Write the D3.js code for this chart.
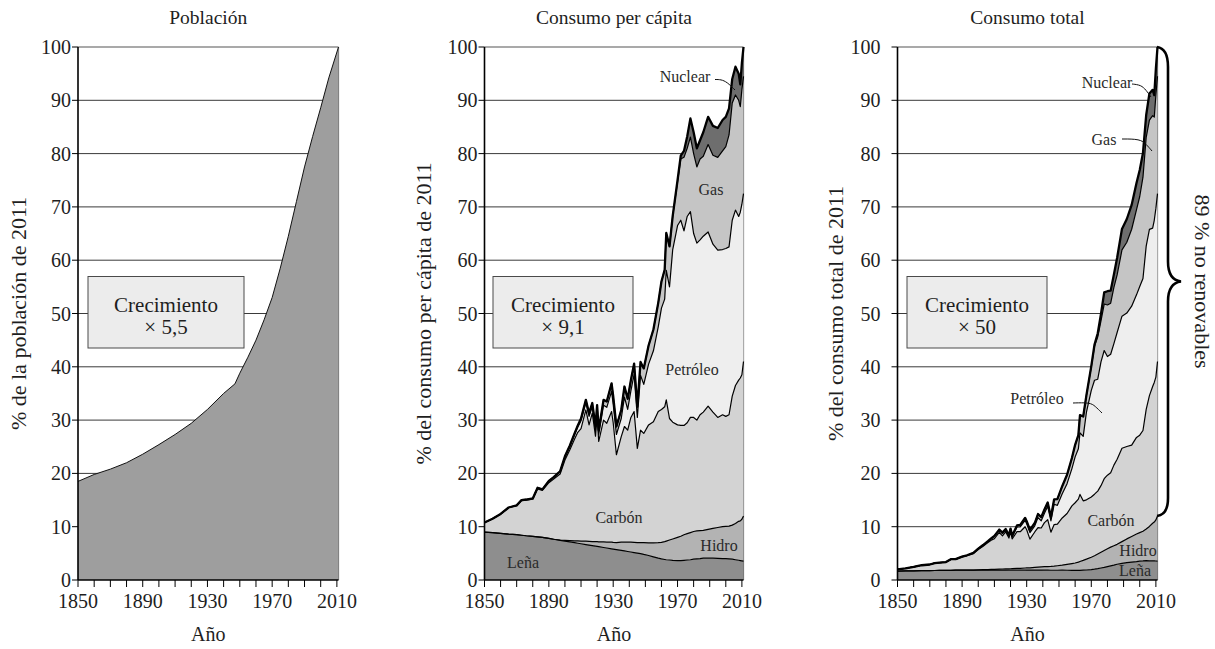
<!DOCTYPE html>
<html><head><meta charset="utf-8">
<script src="https://cdn.jsdelivr.net/npm/d3@7/dist/d3.min.js"></script>
<style>
body{margin:0;background:#fff}
</style>
</head><body>
<svg id="c" width="1215" height="649"></svg>
<script>
// ---------------- DATA ----------------
const popYears  = [1850,1860,1870,1880,1890,1900,1910,1920,1930,1940,1947,1950,1955,1960,1965,1970,1975,1980,1985,1990,1995,2000,2005,2011];
const popValues = [18.5,19.8,20.8,22.0,23.6,25.4,27.3,29.4,32.0,35.0,36.8,38.8,41.8,45.0,48.8,53.0,58.5,64.5,71.0,77.5,83.2,88.6,94.2,100];

const sources = ["Leña","Hidro","Carbón","Petróleo","Gas","Nuclear"];
const years = [1850,1855,1860,1865,1870,1873,1876,1880,1883,1886,1890,1893,1897,1900,1903,1906,1908,1910,1913,1915,1917,1919,1920,1921,1924,1926,1929,1930,1932,1935,1937,1939,1941,1943,1945,1947,1949,1952,1955,1958,1960,1962,1963,1965,1967,1970,1972,1974,1976,1978,1980,1982,1984,1986,1989,1992,1995,1998,2000,2002,2004,2006,2008,2009,2010,2011];

// Consumo per cápita (% del consumo per cápita de 2011), por fuente
const pcLena = [9.0,8.9,8.75,8.6,8.5, 8.4,8.3,8.2,8.1,8.0, 7.8,7.65,7.45,7.3,7.15, 7.0,6.9,6.8,6.65,6.55, 6.45,6.35,6.3,6.25,6.1, 6.0,5.85,5.8,5.7,5.55, 5.45,5.35,5.25,5.15,5.05, 4.95,4.8,4.6,4.35,4.1, 3.95,3.85,3.8,3.75,3.7, 3.65,3.65,3.7,3.75,3.8, 3.9,3.95,4.0,4.1,4.1, 4.1,4.05,4.0,4.0,3.95, 3.9,3.8,3.7,3.65,3.6, 3.55];
const pcHidro = [0,0,0,0,0, 0,0,0,0,0, 0,0,0.05,0.15,0.25, 0.35,0.45,0.5,0.65,0.7, 0.75,0.85,0.9,0.9,1.05, 1.1,1.25,1.25,1.3,1.55, 1.65,1.75,1.85,1.9,1.95, 2.05,2.2,2.35,2.6,2.9, 3.1,3.35,3.5,3.75,4.0, 4.35,4.55,4.8,4.95,5.1, 5.2,5.25,5.25,5.2,5.4, 5.6,5.8,6.0,6.05,6.15, 6.4,6.8,7.3,7.45,7.8, 8.45];
const pcCarbon = [1.8,2.6,3.65,5.0,5.45, 6.5,6.7,6.95,9.0,8.8, 10.45,11.3,12.4,15.05,17.0, 19.1,20.35,21.1,24.6,21.85, 24.1,19.8,23.8,18.85,22.85, 22.3,24.5,22.45,16.5,19.8, 21.7,21.0,23.4,24.55,17.7, 21.1,20.5,22.15,22.75,24.6, 24.95,25.3,26.5,22.8,21.9, 21.1,20.8,20.5,20.8,21.6, 21.4,20.8,21.75,22.2,23.1, 21.8,20.65,21.0,20.65,20.9, 24.2,25.9,26.5,26.8,27.1, 29.0];
const pcPetroleo = [0,0,0,0,0.05, 0.1,0.1,0.15,0.2,0.2, 0.3,0.3,0.4,0.5,0.6, 0.8,1.0,1.5,1.4,1.6, 1.2,1.1,1.0,1.3,2.8, 3.0,3.8,3.5,3.8,3.4, 5.5,3.9,5.0,7.0,5.8, 10.3,9.2,11.4,13.3,15.9, 19.0,20.2,24.3,24.7,32.4, 37.4,38.5,36.5,38.7,38.6, 34.5,33.2,32.8,33.0,32.7, 31.5,31.4,31.0,31.5,31.5, 33.0,32.9,30.7,31.1,32.0, 31.5];
const pcGas = [0,0,0,0,0, 0,0,0,0,0, 0.05,0.05,0.1,0.2,0.2, 0.25,0.3,0.4,0.5,0.6, 0.7,0.7,0.8,0.8,1.0, 1.1,1.5,1.5,1.5,1.6, 2.0,2.0,2.0,2.0,2.0, 2.5,3.0,3.5,4.0,4.5, 5.0,5.5,7.0,7.6,6.3, 8.2,11.5,13.8,12.8,14.0, 15.0,14.3,15.2,15.0,16.4, 16.7,17.4,18.5,19.1,21.0, 22.0,21.6,21.8,19.8,21.5, 22.0];
const pcNuclear = [0,0,0,0,0, 0,0,0,0,0, 0,0,0,0,0, 0,0,0,0,0, 0,0,0,0,0, 0,0,0,0,0, 0,0,0,0,0, 0,0,0,0,0, 0,0,0,0,0, 0.3,0.6,1.2,2.2,3.5, 4.0,3.5,3.5,4.5,5.2, 5.5,5.5,5.8,5.6,5.0, 4.5,5.3,5.0,4.2,5.0, 5.5];

// Consumo total (% del consumo total de 2011), por fuente
const totLena = [1.67,1.70,1.73,1.75,1.77, 1.78,1.79,1.80,1.82,1.84, 1.84,1.84,1.86,1.85,1.86, 1.86,1.86,1.86,1.86,1.86, 1.86,1.85,1.85,1.85,1.85, 1.85,1.85,1.86,1.86,1.86, 1.86,1.86,1.85,1.84,1.83, 1.83,1.83,1.84,1.83,1.80, 1.79,1.80,1.81,1.84,1.88, 1.95,2.03,2.13,2.25,2.37, 2.52,2.65,2.78,2.95,3.11, 3.26,3.36,3.45,3.54,3.57, 3.62,3.60,3.58,3.57,3.56, 3.55];
const totHidro = [0,0,0,0,0, 0,0,0,0,0, 0,0,0.01,0.04,0.07, 0.09,0.12,0.14,0.18,0.20, 0.22,0.25,0.26,0.27,0.32, 0.34,0.40,0.40,0.42,0.52, 0.56,0.61,0.65,0.68,0.71, 0.76,0.84,0.94,1.09,1.28, 1.40,1.56,1.66,1.84,2.03, 2.33,2.53,2.76,2.97,3.18, 3.35,3.52,3.65,3.74,4.09, 4.45,4.81,5.18,5.35,5.57, 5.94,6.45,7.07,7.29,7.71, 8.45];
const totCarbon = [0.33,0.50,0.72,1.02,1.13, 1.38,1.45,1.53,2.03,2.02, 2.47,2.72,3.09,3.82,4.42, 5.06,5.47,5.76,6.89,6.21, 6.94,5.78,7.00,5.58,6.92, 6.87,7.74,7.18,5.38,6.63, 7.40,7.29,8.26,8.79,6.43, 7.81,7.83,8.86,9.56,10.82, 11.30,11.82,12.59,11.17,11.13, 11.29,11.54,11.79,12.48,13.46, 13.80,13.94,15.12,15.98,17.51, 17.33,17.14,18.12,18.28,18.91, 22.46,24.55,25.65,26.21,26.80, 29.0];
const totPetroleo = [0,0,0,0,0.01, 0.02,0.02,0.03,0.05,0.05, 0.07,0.07,0.10,0.13,0.16, 0.21,0.27,0.41,0.39,0.45, 0.35,0.32,0.29,0.38,0.85, 0.92,1.20,1.12,1.24,1.14, 1.88,1.35,1.77,2.51,2.11, 3.81,3.51,4.56,5.59,7.00, 8.61,9.43,11.54,12.10,16.46, 20.01,21.37,20.99,23.22,24.05, 22.25,22.24,22.80,23.76,24.79, 25.04,26.06,26.75,27.88,28.51, 30.62,31.19,29.72,30.42,31.65, 31.5];
const totGas = [0,0,0,0,0, 0,0,0,0,0, 0.01,0.01,0.02,0.05,0.05, 0.07,0.08,0.11,0.14,0.17, 0.20,0.20,0.24,0.24,0.30, 0.34,0.47,0.48,0.49,0.54, 0.68,0.69,0.71,0.72,0.73, 0.93,1.15,1.40,1.68,1.98, 2.27,2.57,3.33,3.72,3.20, 4.39,6.38,7.94,7.68,8.72, 9.68,9.58,10.56,10.80,12.43, 13.28,14.44,15.97,16.90,19.01, 20.42,20.48,21.10,19.36,21.26, 22.0];
const totNuclear = [0,0,0,0,0, 0,0,0,0,0, 0,0,0,0,0, 0,0,0,0,0, 0,0,0,0,0, 0,0,0,0,0, 0,0,0,0,0, 0,0,0,0,0, 0,0,0,0,0, 0.16,0.33,0.69,1.32,2.18, 2.58,2.35,2.43,3.24,3.94, 4.37,4.57,5.01,4.96,4.53, 4.18,5.02,4.84,4.11,4.95, 5.5];

const xTickLabels = [1850,1890,1930,1970,2010];
const yTickValues = [0,10,20,30,40,50,60,70,80,90,100];
const titles = ["Población","Consumo per cápita","Consumo total"];
const yTitles = ["% de la población de 2011","% del consumo per cápita de 2011","% del consumo total de 2011"];
const growth = ["× 5,5","× 9,1","× 50"];
const braceText = "89 % no renovables";

// ---------------- FONT PICK ----------------
function hasFont(name){
  const c=document.createElement("canvas").getContext("2d");
  const s="Crecimiento 1850 Año";
  c.font="40px monospace"; const w1=c.measureText(s).width;
  c.font=`40px "${name}", monospace`; const w2=c.measureText(s).width;
  c.font="40px sans-serif"; const w3=c.measureText(s).width;
  c.font=`40px "${name}", sans-serif`; const w4=c.measureText(s).width;
  return w1!==w2 || w3!==w4;
}
let FONT="serif", FS=1;
if(hasFont("Liberation Serif")){FONT='"Liberation Serif"';FS=1;}
else if(hasFont("Tinos")){FONT='Tinos';FS=1;}
else if(hasFont("Noto Serif")){FONT='"Noto Serif"';FS=0.88;}
else if(hasFont("DejaVu Serif")){FONT='"DejaVu Serif"';FS=0.84;}
const fs = v => (v*FS).toFixed(2)+"px";

// ---------------- STYLE / LAYOUT ----------------
const colors = {"Leña":"#8e8e8e","Hidro":"#b3b3b3","Carbón":"#d3d3d3","Petróleo":"#eeeeee","Gas":"#c5c5c5","Nuclear":"#6e6e6e"};
const popColor = "#9e9e9e";
const yTop = 47, yBot = 580;
const y = d3.scaleLinear().domain([0,100]).range([yBot,yTop]);
const panels = [
  {x0:78,   x1:338.5,  box:[88,244],  ytx:18,  gap:7},
  {x0:484.5,x1:743.5,  box:[493,633], ytx:423, gap:7},
  {x0:897.5,x1:1157.5, box:[907,1047],ytx:835, gap:17}
];
const svg = d3.select("#c").style("font-family",FONT);
function T(sel){return sel.attr("font-family",FONT).attr("fill","#1e1e1e");}

function stackOf(arrs){
  const rows = years.map((yr,i)=>{const o={year:yr}; sources.forEach((s,k)=>o[s]=arrs[k][i]); return o;});
  return d3.stack().keys(sources)(rows);
}
const stacks = [null,
  stackOf([pcLena,pcHidro,pcCarbon,pcPetroleo,pcGas,pcNuclear]),
  stackOf([totLena,totHidro,totCarbon,totPetroleo,totGas,totNuclear])];

panels.forEach((p,pi)=>{
  const g = svg.append("g");
  const x = d3.scaleLinear().domain([1850,2011]).range([p.x0,p.x1]);
  // gridlines
  g.selectAll("line.grid").data(yTickValues.filter(v=>v>0&&v<100)).join("line")
    .attr("x1",p.x0).attr("x2",p.x1).attr("y1",d=>y(d)).attr("y2",d=>y(d))
    .attr("stroke","#3a3a3a").attr("stroke-width",1);
  // frame top/right
  g.append("line").attr("x1",p.x0).attr("x2",p.x1).attr("y1",y(100)).attr("y2",y(100)).attr("stroke","#555").attr("stroke-width",1.2);
  g.append("line").attr("x1",p.x1).attr("x2",p.x1).attr("y1",y(100)).attr("y2",y(0)).attr("stroke","#666").attr("stroke-width",1.2);
  // growth box
  g.append("rect").attr("x",p.box[0]).attr("y",276.5).attr("width",p.box[1]-p.box[0]).attr("height",71.5)
    .attr("fill","#ececec").attr("stroke","#4a4a4a").attr("stroke-width",1);
  const bc=(p.box[0]+p.box[1])/2;
  T(g.append("text")).attr("x",bc).attr("y",312).attr("text-anchor","middle").attr("font-size",fs(21)).text("Crecimiento");
  T(g.append("text")).attr("x",bc).attr("y",334).attr("text-anchor","middle").attr("font-size",fs(21)).text(growth[pi]);

  if(pi===0){
    const pts = popYears.map((yr,i)=>({year:yr,v:popValues[i]}));
    g.append("path").datum(pts)
      .attr("d",d3.area().x(d=>x(d.year)).y0(y(0)).y1(d=>y(d.v)))
      .attr("fill",popColor);
    g.append("path").datum(pts)
      .attr("d",d3.line().x(d=>x(d.year)).y(d=>y(d.v)))
      .attr("fill","none").attr("stroke","#111").attr("stroke-width",1);
  } else {
    const st = stacks[pi];
    const area = d3.area().x(d=>x(d.data.year)).y0(d=>y(d[0])).y1(d=>y(d[1]));
    const line = d3.line().x(d=>x(d.data.year)).y(d=>y(d[1]));
    g.selectAll("path.a").data(st).join("path").attr("d",area).attr("fill",d=>colors[d.key]);
    g.selectAll("path.l").data(st).join("path").attr("d",line)
      .attr("fill","none").attr("stroke","#000").attr("stroke-linejoin","round")
      .attr("stroke-width",(d,i)=> i===st.length-1?2.3:1.2);
  }
  // axes
  g.append("line").attr("x1",p.x0).attr("x2",p.x0).attr("y1",y(0)).attr("y2",y(100)).attr("stroke","#000").attr("stroke-width",1.6);
  g.append("line").attr("x1",p.x0).attr("x2",p.x1).attr("y1",y(0)).attr("y2",y(0)).attr("stroke","#000").attr("stroke-width",1.6);
  g.selectAll("line.yt").data(yTickValues).join("line")
    .attr("x1",p.x0-6).attr("x2",p.x0).attr("y1",d=>y(d)).attr("y2",d=>y(d)).attr("stroke","#000");
  T(g.selectAll("text.yl").data(yTickValues).join("text"))
    .attr("x",p.x0-p.gap).attr("y",d=>y(d)).attr("dy","0.35em").attr("text-anchor","end")
    .attr("font-size",fs(20)).text(d=>d);
  g.selectAll("line.xt").data(d3.range(1850,2011,10)).join("line")
    .attr("x1",d=>x(d)).attr("x2",d=>x(d)).attr("y1",y(0)).attr("y2",y(0)+7).attr("stroke","#000");
  T(g.selectAll("text.xl").data(xTickLabels).join("text"))
    .attr("x",d=>x(d)).attr("y",608).attr("text-anchor","middle").attr("font-size",fs(20)).text(d=>d);
  const cx=(p.x0+p.x1)/2;
  T(g.append("text")).attr("x",cx).attr("y",24).attr("text-anchor","middle").attr("font-size",fs(19.5)).text(titles[pi]);
  T(g.append("text")).attr("x",cx).attr("y",641).attr("text-anchor","middle").attr("font-size",fs(20)).text("Año");
  T(g.append("text")).attr("transform",`translate(${p.ytx},${(yTop+yBot)/2}) rotate(-90)`)
    .attr("dy","0.35em").attr("text-anchor","middle").attr("font-size",fs(22)).text(yTitles[pi]);
});

// ---------- series labels ----------
function lab(x,yb,t){T(svg.append("text")).attr("x",x).attr("y",yb).attr("text-anchor","middle").attr("font-size",fs(16)).attr("fill","#2a2a2a").text(t);}
function leader(pts){svg.append("path").attr("d",d3.line().curve(d3.curveBasis)(pts)).attr("fill","none").attr("stroke","#111").attr("stroke-width",1);}
// panel 2
lab(685,82,"Nuclear"); leader([[715,79.5],[721,79.5],[727,82],[735,90]]);
lab(711,195,"Gas"); lab(692,375,"Petróleo"); lab(619,523,"Carbón"); lab(719,551,"Hidro"); lab(523,568,"Leña");
// panel 3
lab(1107,88,"Nuclear"); leader([[1132,84],[1141,85],[1146,90],[1151,97]]);
lab(1104,145,"Gas"); leader([[1122,139],[1140,139],[1146,144],[1152,151]]);
lab(1037,404,"Petróleo"); leader([[1073,403],[1090,402.5],[1095,406],[1102,413]]);
lab(1111,526,"Carbón"); lab(1138,556,"Hidro"); lab(1135,576,"Leña");

// ---------- brace ----------
const last = years.length-1;
const bTop = y(100), bBot = y(totLena[last]+totHidro[last]);
const bMid = (bTop+bBot)/2, bx = 1157, bv = 1168, tip = 1181;
svg.append("path").attr("d",
  `M${bx},${bTop} C${bx+8},${bTop+1} ${bv},${bTop+8} ${bv},${bTop+20} L${bv},${bMid-20} C${bv},${bMid-6} ${bv+5},${bMid-1} ${tip},${bMid}
   C${bv+5},${bMid+1} ${bv},${bMid+6} ${bv},${bMid+20} L${bv},${bBot-18} C${bv},${bBot-7} ${bx+8},${bBot-1} ${bx},${bBot}`)
  .attr("fill","none").attr("stroke","#000").attr("stroke-width",2.6);
T(svg.append("text")).attr("transform",`translate(1203,${bMid}) rotate(90)`).attr("dy","0.35em")
  .attr("text-anchor","middle").attr("font-size",fs(22)).text(braceText);
</script>
</body></html>
